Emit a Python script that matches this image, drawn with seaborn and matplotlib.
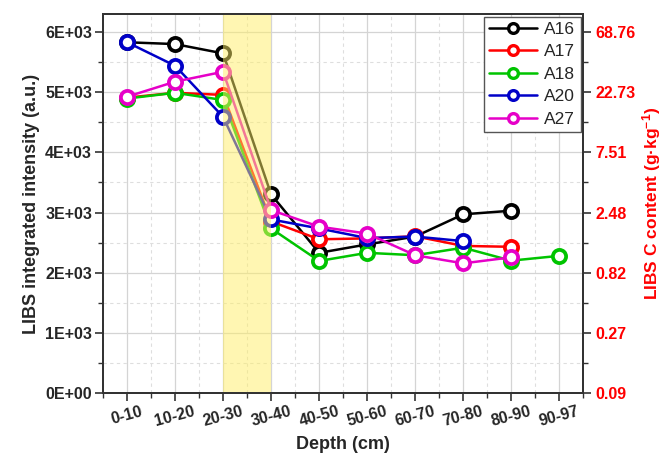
import matplotlib
matplotlib.use("Agg")
import matplotlib.pyplot as plt
import seaborn as sns
import pandas as pd
import numpy as np
from matplotlib.ticker import MultipleLocator
from matplotlib.lines import Line2D

depths = ["0-10", "10-20", "20-30", "30-40", "40-50", "50-60", "60-70", "70-80", "80-90", "90-97"]
A16 = [5830, 5800, 5645, 3300, 2330, 2470, 2600, 2970, 3030]
A17 = [4910, 4990, 4955, 2850, 2555, 2570, 2605, 2445, 2430]
A18 = [4895, 4990, 4870, 2735, 2195, 2330, 2290, 2415, 2200, 2280]
A20 = [5830, 5440, 4590, 2885, 2735, 2575, 2600, 2525]
A27 = [4925, 5175, 5340, 3040, 2765, 2650, 2290, 2155, 2255]
site_names = ["A16", "A17", "A18", "A20", "A27"]
site_colors = ["#000000", "#FF0000", "#00C400", "#0000C8", "#E600C8"]
left_ticks = [0, 1000, 2000, 3000, 4000, 5000, 6000]
left_labels = ["0E+00", "1E+03", "2E+03", "3E+03", "4E+03", "5E+03", "6E+03"]
right_labels = ["0.09", "0.27", "0.82", "2.48", "7.51", "22.73", "68.76"]

rows = []
for name, vals in zip(site_names, [A16, A17, A18, A20, A27]):
    for i, v in enumerate(vals):
        rows.append({"site": name, "pos": i, "val": v})
df = pd.DataFrame(rows)

sns.set_theme(style="white")
plt.rcParams["font.family"] = ["Liberation Sans", "DejaVu Sans"]
plt.rcParams["mathtext.fontset"] = "custom"
plt.rcParams["mathtext.rm"] = "Liberation Sans:bold"
plt.rcParams["mathtext.bf"] = "Liberation Sans:bold"
plt.rcParams["mathtext.it"] = "Liberation Sans:bold"

fig = plt.figure(figsize=(6.65, 4.59), dpi=100)
ax = fig.add_axes([0.155, 0.1438, 0.722, 0.8257])

mk = dict(marker="o", markersize=9.5, markerfacecolor="white", markeredgewidth=2.7)
sns.lineplot(data=df, x="pos", y="val", hue="site", hue_order=site_names,
             palette=dict(zip(site_names, site_colors)), linewidth=1.8,
             ax=ax, zorder=3, legend=False, **mk)
for line, c in zip(ax.lines, site_colors):
    line.set_markeredgecolor(c)

ax.axvspan(2, 3, color="#FFEE66", alpha=0.5, zorder=4, lw=0)

ax.set_xlim(-0.5, 9.5)
ax.set_ylim(0, 6300)
ax.set_xticks(range(len(depths)))
ax.set_xticklabels(depths, rotation=15, fontsize=11.5, fontweight="bold")
ax.xaxis.set_minor_locator(MultipleLocator(0.5))
ax.set_yticks(left_ticks)
ax.set_yticklabels(left_labels, fontsize=11.5, fontweight="bold")
ax.yaxis.set_minor_locator(MultipleLocator(500))

ax.grid(True, which="major", color="#d4d4d4", lw=0.9, ls="-")
ax.grid(True, which="minor", color="#dedede", lw=0.8, ls=(0, (3, 3)))
ax.set_axisbelow(True)
ax.tick_params(axis="both", which="major", direction="out", length=6, width=1.2,
               color="#333333", bottom=True, left=True, pad=2)
ax.tick_params(axis="both", which="minor", direction="out", length=3.5, width=1.0,
               color="#333333", bottom=True, left=True)
for s in ax.spines.values():
    s.set_color("#333333")
    s.set_linewidth(1.4)

ax.set_xlabel("Depth (cm)", fontsize=13, fontweight="bold", labelpad=5)
ax.set_ylabel("LIBS integrated intensity (a.u.)", fontsize=13, fontweight="bold", labelpad=4)

ax2 = ax.twinx()
ax2.set_ylim(ax.get_ylim())
ax2.set_yticks(left_ticks)
ax2.set_yticklabels(right_labels, fontsize=11.5, fontweight="bold", color="#FF0000")
ax2.yaxis.set_minor_locator(MultipleLocator(500))
ax2.tick_params(axis="y", which="major", direction="out", length=6, width=1.2, color="#333333", right=True, pad=3)
ax2.tick_params(axis="y", which="minor", direction="out", length=3.5, width=1.0, color="#333333", right=True)
ax2.grid(False)
for s in ax2.spines.values():
    s.set_color("#333333")
    s.set_linewidth(1.4)
ax2.set_ylabel("LIBS C content (g\u00b7kg$^{-1}$)", fontsize=12.5, fontweight="bold",
               color="#FF0000", labelpad=3)

mk_leg = dict(marker="o", markersize=7, markerfacecolor="white", markeredgewidth=2.4)
handles = [Line2D([0], [0], color=c, lw=1.8, markeredgecolor=c, **mk_leg) for c in site_colors]
ax.legend(handles, site_names, loc="upper right", fontsize=12.5, frameon=True, fancybox=False,
          edgecolor="#555555", framealpha=1, handlelength=2.8, borderaxespad=0.15,
          labelspacing=0.42, handletextpad=0.4, borderpad=0.3)

fig.savefig("out.png", dpi=100)
